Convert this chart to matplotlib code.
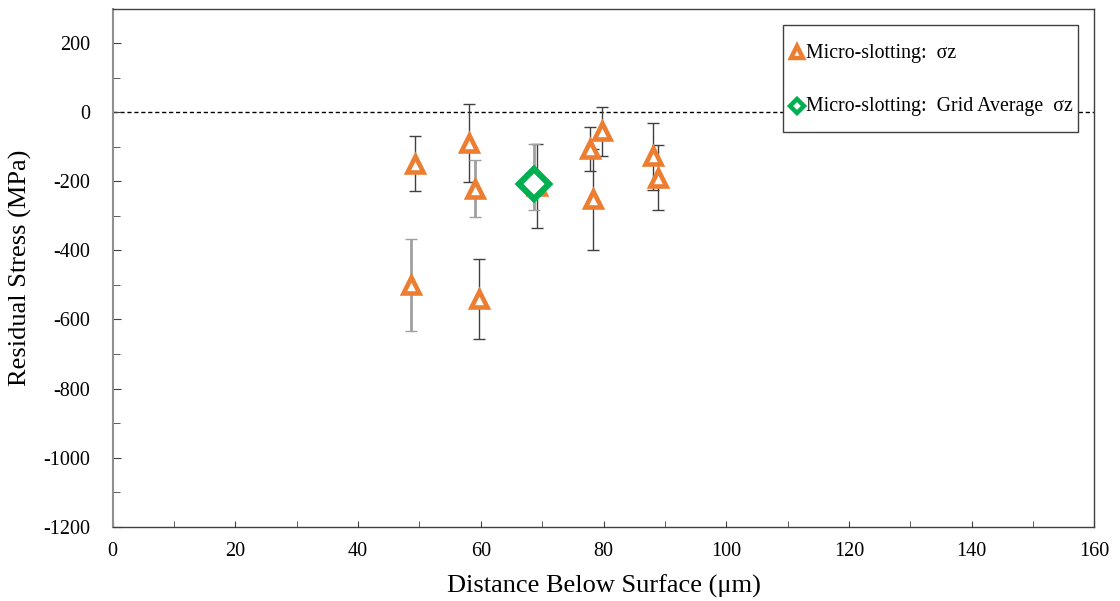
import numpy as np
import matplotlib
matplotlib.use("Agg")
import matplotlib.pyplot as plt
from matplotlib.ticker import MultipleLocator
from matplotlib.lines import Line2D
from matplotlib.legend_handler import HandlerLine2D

# micro-slotting sigma_z measurements (depth in um, stress in MPa, +/- error)
tri_x = [48.6, 49.3, 58.0, 59.05, 59.75, 69.1, 77.8, 78.3, 79.7, 88.1, 88.9]
tri_y = [-499, -149, -89, -221, -540, -214, -106, -252, -55, -128, -189]
tri_err = [133, 80, 114, 82, 116, 121, 64, 146, 71, 97, 93]

# grid average
avg_x = [68.7]
avg_y = [-209]
avg_err_lo = [73]
avg_err_hi = [118]

orange = "#ED7D31"
green = "#00B050"
light_bars = [0, 3]


class LoweredHandler(HandlerLine2D):
    # tall legend rows put the marker above the text, pull it back down
    def create_artists(self, legend, orig_handle, xdescent, ydescent,
                       width, height, fontsize, trans):
        arts = super().create_artists(legend, orig_handle, xdescent, ydescent,
                                      width, height, fontsize, trans)
        for a in arts:
            a.set_ydata(np.asarray(a.get_ydata()) - 0.42 * fontsize)
        return arts


plt.rcParams["font.family"] = ["Liberation Serif", "DejaVu Serif"]
plt.rcParams["axes.unicode_minus"] = False

fig = plt.figure(figsize=(11.2, 6.01), dpi=100)
ax = fig.add_axes([0.1006, 0.1236, 0.8765, 0.862])

ax.axhline(0, color="black", lw=1, ls=(0, (3, 2)), zorder=1)

for i in range(len(tri_x)):
    if i in light_bars:
        col, lw = "#A0A0A0", 2
    else:
        col, lw = "#404040", 1
    ax.errorbar(tri_x[i], tri_y[i], yerr=tri_err[i], fmt="none",
                ecolor=col, elinewidth=lw, capsize=4, capthick=1, zorder=2)

ax.errorbar(avg_x, avg_y, yerr=[avg_err_lo, avg_err_hi], fmt="none",
            ecolor="#A0A0A0", elinewidth=2, capsize=4, capthick=1, zorder=2)

ax.plot(tri_x, tri_y, ls="none", marker="^", ms=11.5, mfc="white",
        mec=orange, mew=3.3, zorder=3)
ax.plot(avg_x, avg_y, ls="none", marker="D", ms=15, mfc="white",
        mec=green, mew=4.5, zorder=4)

ax.set_xlim(0, 160)
ax.set_ylim(-1200, 300)
ax.xaxis.set_major_locator(MultipleLocator(20))
ax.xaxis.set_minor_locator(MultipleLocator(10))
ax.yaxis.set_major_locator(MultipleLocator(200))
ax.yaxis.set_minor_locator(MultipleLocator(100))
ax.set_yticks(np.arange(-1200, 201, 200))
ax.tick_params(axis="both", which="both", direction="in", labelsize=14.5,
               color="#404040")
ax.tick_params(axis="y", which="major", length=6, pad=16)
ax.tick_params(axis="y", which="minor", length=5)
ax.tick_params(axis="x", which="both", length=4, pad=11)

for side in ["top", "right", "bottom"]:
    ax.spines[side].set_color("#404040")
    ax.spines[side].set_linewidth(1)
ax.spines["left"].set_color("#909090")
ax.spines["left"].set_linewidth(1.5)

ax.set_xlabel("Distance Below Surface (\u03bcm)", fontsize=19, labelpad=10)
ax.set_ylabel("Residual Stress (MPa)", fontsize=19, labelpad=8)

handles = [
    Line2D([], [], ls="none", marker="^", ms=8.5, mfc="white", mec=orange, mew=3.2),
    Line2D([], [], ls="none", marker="D", ms=7.5, mfc="white", mec=green, mew=3.2),
]
labels = ["Micro-slotting:  \u03c3z", "Micro-slotting:  Grid Average  \u03c3z"]
leg = ax.legend(handles, labels, loc="upper right", fontsize=14.3,
                frameon=True, fancybox=False, edgecolor="#404040",
                handlelength=0.8, handleheight=2.9, handletextpad=0.05,
                labelspacing=0.55, borderpad=0.3, borderaxespad=0.8,
                handler_map={Line2D: LoweredHandler()})
leg.get_frame().set_linewidth(1)
leg.get_frame().set_alpha(1)
leg.set_zorder(5)

fig.savefig("out.png", dpi=100)
